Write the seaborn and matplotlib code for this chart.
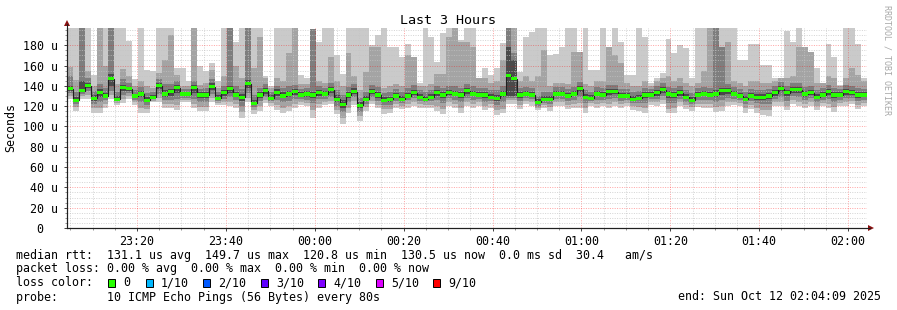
import matplotlib
matplotlib.use("Agg")
import matplotlib.pyplot as plt
from matplotlib.patches import Rectangle, Polygon
import numpy as np
import pandas as pd
import seaborn as sns

# ---------------- data (values in microseconds, 135 steps of 80 s) ----------------
med = [137,126,135,140,128,133,130,147,127,138,
       137,130,132,126,129,140,132,134,138,132,
       132,138,131,131,139,128,133,137,131,129,
       142,123,131,135,128,133,130,132,134,131,
       132,131,133,132,136,127,122,131,134,121,
       127,134,131,126,127,130,127,130,133,129,
       127,129,133,131,133,132,131,135,132,131,
       131,129,128,132,150,147,131,132,131,124,
       127,127,132,132,130,132,137,129,128,132,
       131,134,134,130,130,127,128,131,131,133,
       136,132,131,133,129,126,131,132,131,132,
       135,135,132,130,127,130,129,129,130,133,
       137,133,136,136,132,133,129,131,134,131,
       131,134,133,131,131]
p1 = [127,115,127,127,113,113,118,127,121,123,
      127,121,113,113,124,124,118,118,116,124,
      124,118,115,115,124,121,121,120,118,108,
      124,112,115,123,120,116,113,115,118,121,
      120,108,118,121,122,112,102,113,121,105,
      115,122,118,112,113,118,117,118,120,118,
      118,118,115,112,120,118,113,120,118,120,
      116,118,111,113,122,122,117,122,120,116,
      118,115,120,120,117,118,118,113,120,118,
      120,118,120,118,120,116,115,113,121,120,
      122,113,113,120,117,115,119,118,118,114,
      115,120,121,120,113,117,113,111,110,120,
      120,116,122,120,118,120,116,120,118,114,
      120,120,122,117,120]
p2 = [130,119,130,131,118,118,122,131,123,127,
      130,124,118,117,125,128,122,122,121,126,
      126,122,119,119,128,123,124,124,122,114,
      128,116,120,126,123,121,118,120,122,124,
      123,116,122,124,125,116,108,118,125,110,
      119,125,121,117,117,122,120,122,124,122,
      121,121,120,117,124,122,118,124,122,124,
      120,122,116,117,126,126,121,125,124,118,
      121,119,124,124,121,122,123,118,123,122,
      123,122,124,122,123,120,119,118,124,124,
      126,117,118,124,121,119,122,122,122,119,
      120,124,124,123,118,121,118,116,116,124,
      124,120,126,124,122,124,120,123,122,119,
      123,124,125,121,123]
p3 = [133,122,132,135,122,124,126,135,125,131,
      133,126,124,121,127,132,126,126,127,128,
      128,127,124,124,132,125,127,129,126,120,
      133,119,125,129,125,126,124,125,127,127,
      126,123,127,127,129,120,114,124,129,114,
      122,129,125,121,121,125,123,126,128,125,
      124,125,126,123,128,126,124,128,126,127,
      124,125,121,124,128,128,125,128,127,120,
      123,122,127,127,125,126,129,123,125,126,
      126,127,128,125,126,123,123,123,127,127,
      130,123,123,127,124,122,126,126,126,124,
      126,128,127,126,122,125,123,122,122,127,
      129,125,130,129,126,128,124,126,127,124,
      126,128,128,125,126]
p4 = [135,124,134,138,125,129,128,140,126,135,
      135,128,129,124,128,137,129,130,133,130,
      130,133,128,128,136,127,130,133,129,125,
      138,121,128,132,127,130,128,129,131,129,
      129,128,130,130,133,124,118,128,132,118,
      125,132,128,124,124,128,125,128,131,127,
      126,127,130,128,131,130,128,132,130,129,
      128,127,125,129,130,130,128,130,129,122,
      125,125,130,130,128,130,134,127,127,130,
      129,131,132,128,128,125,126,128,129,130,
      133,128,128,130,127,124,129,130,129,129,
      131,132,130,128,125,128,126,126,127,130,
      134,130,133,133,129,131,127,129,131,128,
      129,131,131,128,129]
p7 = [140,129,145,143,131,137,133,152,130,141,
      139,132,135,129,131,143,136,137,141,134,
      134,141,134,134,143,131,136,140,134,132,
      146,126,134,138,131,137,134,135,137,134,
      135,134,136,135,139,131,126,134,138,124,
      130,137,134,129,129,133,130,133,136,132,
      130,132,136,134,136,135,134,138,135,134,
      134,132,131,135,178,165,134,135,134,127,
      130,130,135,135,133,135,140,132,131,135,
      134,137,137,133,133,130,131,134,134,136,
      139,135,134,136,132,129,134,135,134,136,
      138,138,135,133,130,133,132,132,133,136,
      140,136,139,139,135,136,132,134,137,134,
      134,137,136,134,134]
p8 = [150,134,200,148,135,142,138,200,134,147,
      143,136,139,133,134,147,142,142,145,137,
      137,145,137,138,147,134,140,200,140,137,
      200,131,138,142,134,140,138,140,141,137,
      138,196,140,138,143,136,131,139,142,128,
      134,141,139,133,134,137,134,138,141,136,
      134,136,140,138,140,140,138,142,140,138,
      138,136,136,140,200,172,138,139,138,130,
      134,134,139,139,137,139,144,136,134,139,
      138,141,141,137,137,134,135,138,137,140,
      143,139,138,140,136,133,138,139,138,199,
      178,142,139,137,134,137,136,136,137,140,
      144,140,143,143,139,140,136,138,141,138,
      137,141,140,138,137]
p9 = [159,146,200,155,140,200,160,200,142,157,
      150,140,145,140,138,153,165,190,151,140,
      140,200,141,143,156,138,150,200,160,148,
      200,158,188,148,138,148,145,172,200,142,
      142,196,145,143,168,145,140,172,150,136,
      154,178,178,138,140,142,140,170,168,140,
      140,142,152,152,188,198,183,183,178,148,
      148,143,145,165,200,200,145,150,145,150,
      175,140,143,143,142,173,173,142,140,145,
      145,178,170,163,143,140,140,145,140,145,
      148,150,145,148,143,140,143,155,199,199,
      178,183,145,143,140,145,145,143,143,145,
      148,148,150,178,178,173,143,143,150,148,
      140,148,158,151,145]
p10 = [200,200,200,200,151,200,200,200,200,200,
       184,147,200,156,155,200,200,200,158,158,
       145,200,160,155,163,145,200,200,183,200,
       200,200,200,150,140,200,200,200,200,151,
       148,196,183,200,200,170,152,200,200,200,
       200,180,190,200,178,178,168,181,168,143,
       200,188,164,192,200,198,185,199,199,148,
       158,151,158,182,200,200,154,188,193,199,
       199,170,171,178,199,199,173,199,156,156,
       199,178,199,183,151,151,199,188,143,148,
       153,186,172,180,177,148,199,199,199,199,
       199,199,199,165,165,181,181,161,161,148,
       148,194,183,199,178,173,158,143,181,168,
       141,199,199,181,148]

x_tick_labels = ["23:20", "23:40", "00:00", "00:20", "00:40",
                 "01:00", "01:20", "01:40", "02:00"]
y_tick_labels = ["0  ", "20 u", "40 u", "60 u", "80 u", "100 u",
                 "120 u", "140 u", "160 u", "180 u"]
loss_labels = ["0", "1/10", "2/10", "3/10", "4/10", "5/10", "9/10"]
loss_colors = ["#26ff00", "#00b8ff", "#0059ff", "#5e00ff", "#7e00ff", "#dd00ff", "#ff0000"]

# ---------------- figure ----------------
W, H = 897, 310
plt.rcParams["font.family"] = ["DejaVu Sans Mono", "DejaVu Sans"]
plt.rcParams["font.size"] = 8.4

fig = plt.figure(figsize=(W / 100, H / 100), dpi=100, facecolor="white")
ax = fig.add_axes([67 / W, 1 - 228 / H, 800 / W, 200 / H])
ax.set_facecolor("white")

x0 = 4.25                      # minutes after 23:00 (23:04:15)
step = 80 / 60
xe = x0 + np.arange(len(med) + 1) * step

def ext(a):
    a = np.asarray(a, dtype=float)
    return np.append(a, a[-1])

bands = [(p1, p10, "#cacaca"), (p2, p9, "#a4a4a4"),
         (p3, p8, "#7e7e7e"), (p4, p7, "#4a4a4a")]
for lo, hi, c in bands:
    ax.fill_between(xe, ext(lo), ext(hi), step="post", color=c, lw=0, zorder=1)

df = pd.DataFrame({"t": xe, "median": ext(med)})
sns.lineplot(data=df, x="t", y="median", drawstyle="steps-post", color="#202020",
             lw=0.8, ax=ax, estimator=None, sort=False, zorder=3)
ax.fill_between(xe, ext(med) - 1.5, ext(med) + 1.5, step="post",
                color=loss_colors[0], lw=0, zorder=4)

ax.set_xlim(x0, x0 + 180)
ax.set_ylim(0, 197)
ax.set_xlabel("")
ax.set_ylabel("")

ax.set_yticks(np.arange(0, 181, 20))
ax.set_yticklabels(y_tick_labels)
ax.set_yticks(np.arange(5, 197, 5), minor=True)
ax.set_xticks(np.arange(20, 181, 20))
ax.set_xticklabels(x_tick_labels)
ax.set_xticks(np.arange(5, 185, 5), minor=True)

ax.set_axisbelow(False)
ax.grid(which="minor", color="#c4c4c4", lw=0.72, ls=(0, (1, 1.4)), alpha=0.7)
ax.grid(which="major", color="#ff0000", lw=0.72, ls=(0, (1, 1.4)), alpha=0.35)
ax.tick_params(which="major", length=2.5, width=0.7, color="#404040", pad=4, labelsize=8.4)
ax.tick_params(which="minor", length=1.2, width=0.6, color="#808080")
ax.tick_params(axis="x", pad=2.5)

for s in ["top", "right"]:
    ax.spines[s].set_visible(False)
for s in ["left", "bottom"]:
    ax.spines[s].set_color("#202020")
    ax.spines[s].set_linewidth(0.8)

def fx(x):
    return x / W

def fy(y):
    return 1 - y / H

# axis extensions and arrows
fig.add_artist(plt.Line2D([fx(67), fx(67)], [fy(228), fy(24)], color="#202020", lw=0.8))
fig.add_artist(plt.Line2D([fx(67), fx(870)], [fy(228), fy(228)], color="#202020", lw=0.8))
fig.add_artist(Polygon([(fx(64), fy(26)), (fx(70), fy(26)), (fx(67), fy(20))],
                       closed=True, transform=fig.transFigure, color="#8b1010", lw=0))
fig.add_artist(Polygon([(fx(868), fy(225)), (fx(868), fy(231)), (fx(874), fy(228))],
                       closed=True, transform=fig.transFigure, color="#8b1010", lw=0))

# titles
fig.text(fx(448), fy(20), "Last 3 Hours", ha="center", va="center", fontsize=9.6)
fig.text(fx(11), fy(127), "Seconds", rotation=90, ha="center", va="center", fontsize=8.4)
fig.text(fx(887), fy(60), "RRDTOOL / TOBI OETIKER", rotation=270, ha="center",
         va="center", fontsize=6.0, color="#a8a8a8")

# legend / stats
lines = [
    "median rtt:  131.1 us avg  149.7 us max  120.8 us min  130.5 us now  0.0 ms sd  30.4   am/s",
    "packet loss: 0.00 % avg  0.00 % max  0.00 % min  0.00 % now",
]
fig.text(fx(16), fy(255), lines[0], ha="left", va="center")
fig.text(fx(16), fy(268.5), lines[1], ha="left", va="center")
fig.text(fx(16), fy(283), "loss color:", ha="left", va="center")
box_x = [108, 146, 203, 261, 318, 376, 433]
for bx, lab, col in zip(box_x, loss_labels, loss_colors):
    fig.add_artist(Rectangle((fx(bx), fy(287)), 7 / W, 8 / H, transform=fig.transFigure,
                             facecolor=col, edgecolor="black", lw=0.7))
    fig.text(fx(bx + 15), fy(283), lab, ha="left", va="center")
fig.text(fx(16), fy(297), "probe:       10 ICMP Echo Pings (56 Bytes) every 80s",
         ha="left", va="center")
fig.text(fx(881), fy(297), "end: Sun Oct 12 02:04:09 2025", ha="right", va="center")

fig.savefig("out.png", dpi=100, facecolor="white")
